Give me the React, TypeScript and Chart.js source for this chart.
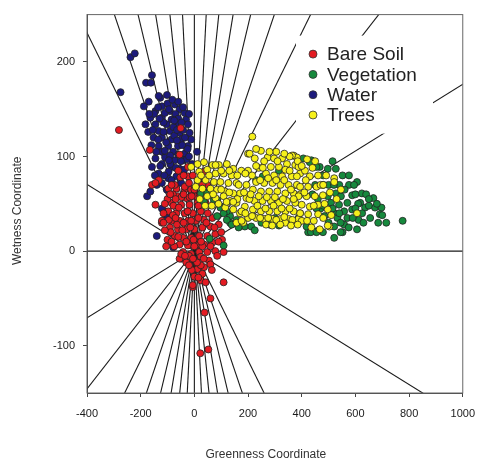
import React, { useEffect, useRef } from 'react';
import { Chart, registerables } from 'chart.js';

Chart.register(...registerables);

// ---- data ----
const seriesNames = ['Bare Soil', 'Vegetation', 'Water', 'Trees'];
const seriesColors = ['#e31b22', '#16893d', '#1c1a7c', '#f6f01a'];

const bareSoilPoints: [number, number][] = [
  [-281, 128], [-166, 107], [-51, 130], [-55, 102], [-24, 79], [-133, 75], [-158, 70], [-145, 72],
  [-145, 49], [-121, 30], [-48, -8], [109, -33], [60, -50], [38, -65], [22, -108], [52, -104], [-6, -38],
  [-67, 66], [-36, 65], [-6, 66], [-61, 58], [-30, 56], [6, 58], [-85, 51], [-49, 49], [-18, 49], [12, 51],
  [42, 51], [-97, 42], [-67, 40], [-36, 40], [-6, 40], [24, 42], [-121, 32], [-85, 32], [-55, 32], [-24, 32],
  [6, 32], [36, 33], [67, 35], [-91, 25], [-61, 23], [-30, 23], [0, 23], [30, 25], [60, 26], [91, 28],
  [-73, 16], [-42, 14], [-12, 14], [18, 16], [48, 16], [78, 18], [-55, 7], [-24, 6], [6, 6], [36, 7], [67, 9],
  [-42, -1], [-12, -3], [18, -1], [48, -1], [78, 0], [103, 12],
  [-97, 66], [-73, 70], [-36, 68], [-12, 65], [-52, 78], [-80, 60], [-20, 72],
  [-55, -8], [-49, -3], [24, -6], [54, -10], [85, -5], [109, -1], [12, -19], [36, -17], [24, -15], [0, -27],
  [24, -31], [42, -33], [-6, -36],
  [-24, 89], [-6, 80], [36, 84], [48, 70], [0, 65],
  [-115, 40], [-95, 33], [-88, 20], [-100, 12], [-75, 5], [-30, -12], [-20, -5], [10, -12], [30, -24],
  [60, -14], [-10, -20], [15, -28],
  [-78, 48], [-48, 57], [-18, 57], [-100, 55], [-110, 22], [-12, 32], [50, 40], [-45, 22], [-80, 38],
  [-58, 46], [-25, 42], [15, 48], [-3, 12], [-65, 28], [30, 5],
  [-110, 50], [-90, 60], [-70, 55], [-40, 60], [-10, 58], [20, 60], [-115, 30], [-70, 35], [-40, 30],
  [-15, 25], [15, 35], [45, 30], [75, 25], [100, 20], [-105, 5], [-85, 10], [-60, 15], [-30, 10], [0, 5],
  [25, 10], [60, 5], [90, 10], [-35, -5], [-5, -8], [35, -8], [65, -20], [-20, -15], [45, 60], [30, 70],
  [-60, 85], [-40, 80], [-85, 70],
];

const vegetationPoints: [number, number][] = [
  [406, 98], [436, 96], [467, 89], [497, 87], [527, 87], [552, 80], [576, 80], [606, 73], [576, 70], [624, 61],
  [527, 61], [497, 58], [546, 58], [588, 59], [509, 51], [539, 49], [570, 51], [618, 51], [667, 56], [521, 40],
  [558, 42], [588, 44], [636, 46], [673, 46], [697, 46], [485, 37], [533, 35], [570, 35], [612, 33], [655, 35],
  [691, 39], [685, 30], [521, 26], [558, 28], [606, 23], [479, 20], [521, 14], [552, 20], [388, 30], [424, 20],
  [455, 21], [776, 32], [715, 30],
  [133, 30], [188, 26], [212, 26], [133, 37], [109, 47], [85, 54], [60, 59], [36, 63], [121, 42], [157, 33],
  [315, 27], [351, 33], [388, 35], [418, 26], [434, 20], [455, 20], [545, 20], [430, 94], [455, 89], [230, 75],
  [255, 79], [315, 85],
  [57, 13], [109, 6], [85, 37], [109, 40], [121, 33], [139, 28], [97, 46], [73, 54], [24, 61], [48, 61], [36, 52],
  [250, 30], [280, 28], [300, 35], [460, 55], [470, 45], [450, 70], [480, 70], [500, 70], [540, 70], [600, 60],
  [640, 60], [610, 50], [650, 48], [500, 30], [540, 40], [590, 35], [630, 30],
  [440, 60], [455, 45], [480, 48], [515, 45], [545, 30], [575, 25], [600, 45], [625, 40], [650, 55], [680, 50],
  [700, 38], [595, 70], [560, 65], [520, 70], [515, 95], [480, 80], [165, 25], [225, 22],
];

const waterPoints: [number, number][] = [
  [-238, 205], [-222, 209], [-158, 186], [-180, 178], [-162, 178], [-275, 168],
  [-170, 158], [-127, 162], [-188, 153], [-121, 153], [-73, 155], [-55, 150], [-36, 146], [-91, 148], [-145, 148],
  [-164, 141], [-121, 141], [-85, 139], [-31, 139], [-182, 134], [-145, 134], [-103, 134], [-67, 134], [-24, 134],
  [-133, 127], [-91, 127], [-55, 125], [-18, 125], [-121, 120], [-85, 118], [-49, 118], [-12, 118], [-133, 111],
  [-97, 111], [-61, 111], [-24, 111], [-121, 105], [-79, 105], [-36, 103], [10, 105],
  [-176, 58], [-164, 63], [-133, 82], [-140, 70], [-121, 72], [-97, 77], [-67, 79], [-49, 72], [-109, 42],
  [-140, 16], [-79, 4], [-158, 89], [-121, 92], [-85, 89], [-55, 87], [-73, 96], [-42, 96], [-145, 98],
  [-109, 99], [-121, 45], [-105, 38],
  [-150, 145], [-110, 146], [-70, 145], [-135, 152], [-100, 156], [-60, 140], [-42, 128], [-115, 126],
  [-75, 122], [-35, 120], [-152, 120], [-105, 115], [-65, 117], [-142, 105], [-110, 106], [-90, 101],
  [-60, 102], [-28, 97], [-127, 90], [-96, 84], [-70, 88], [-38, 86], [-147, 80], [-112, 80], [-85, 75],
  [-103, 65], [-20, 100], [-8, 92], [-168, 145], [-172, 126], [-160, 112], [-82, 160], [-102, 165],
  [-133, 164], [-60, 158], [-45, 112], [-25, 108], [-50, 95], [-90, 92], [-115, 136], [-78, 131], [-48, 136],
  [-135, 118], [-95, 96],
  [-95, 150], [-75, 138], [-130, 140], [-42, 152], [-20, 145], [-155, 128], [-65, 128],
];

const treesPoints: [number, number][] = [
  [216, 121], [200, 103], [248, 106], [273, 99], [240, 88], [285, 89], [297, 98], [327, 98], [345, 92],
  [370, 101], [376, 91], [315, 89], [339, 86], [267, 82], [297, 80], [327, 79], [363, 79], [394, 82], [230, 73],
  [260, 72], [291, 72], [321, 70], [351, 70], [382, 70], [194, 70], [218, 65], [248, 63], [279, 63], [309, 63],
  [339, 61], [370, 61], [394, 60], [170, 61], [194, 56], [224, 53], [254, 53], [285, 53], [315, 51], [345, 53],
  [376, 51], [157, 51], [188, 47], [218, 44], [248, 42], [279, 42], [309, 42], [339, 42], [370, 42], [394, 40],
  [170, 40], [200, 35], [230, 35], [260, 34], [291, 34], [321, 34], [351, 34], [388, 34], [267, 28], [339, 30],
  [12, 92], [36, 94], [67, 91], [91, 91], [121, 92], [145, 87], [18, 84], [48, 86], [79, 82], [109, 82],
  [139, 80], [12, 75], [42, 75], [73, 73], [97, 73], [127, 72], [157, 72], [30, 66], [60, 66], [85, 65],
  [115, 63], [145, 61], [48, 58], [79, 56], [109, 58], [133, 53], [115, 46], [145, 44], [176, 42], [157, 30],
  [182, 30], [-12, 89],
  [382, 99], [388, 89], [412, 85], [382, 79], [430, 79], [461, 80], [491, 80], [521, 77], [394, 68], [424, 68],
  [455, 68], [388, 58], [418, 58], [449, 58], [479, 59], [400, 49], [430, 47], [461, 49], [497, 44], [394, 40],
  [424, 39], [461, 39], [400, 32], [436, 25], [467, 23], [503, 26], [546, 65], [606, 40],
  [364, 101], [206, 103], [521, 73], [497, 27], [176, 32],
  [355, 100], [305, 105], [260, 95], [175, 85], [200, 85], [230, 90], [79, 91],
  [225, 98], [255, 88], [310, 95], [335, 103], [355, 85], [385, 95], [400, 90], [415, 75], [440, 88], [470, 70],
  [485, 50], [445, 48], [410, 62], [370, 55], [355, 45], [325, 45], [295, 48], [265, 45], [235, 48], [205, 55],
  [185, 62], [165, 70], [190, 82], [215, 80], [245, 75], [275, 77], [305, 75], [335, 75], [360, 65], [330, 55],
  [300, 57], [270, 57], [240, 58], [210, 60], [160, 55], [130, 62], [100, 65], [70, 60], [25, 80], [55, 80],
  [100, 85], [130, 85], [160, 80], [5, 68], [20, 55], [40, 48], [65, 48], [90, 50], [120, 52], [145, 52],
  [190, 40], [215, 37], [245, 35], [275, 35], [305, 33], [335, 36], [365, 33], [420, 32], [445, 32], [480, 35],
  [510, 38], [530, 55], [505, 62], [480, 70], [450, 95], [420, 97], [280, 105], [230, 108], [320, 28], [290, 27],
  [360, 27], [385, 28],
];

const xTicks = [-400, -200, 0, 200, 400, 600, 800, 1000];
const yTicks = [-100, 0, 100, 200];
const rayAnglesDeg = [0, 10, 20, 30, 40, 50, 60, 70, 80, 90, 100, 110, 120, 130, 140, 150, 170];
const xTitle = 'Greenness Coordinate';
const yTitle = 'Wetness Coordinate';

const FONT = '"Liberation Sans", Arial, sans-serif';

const raysPlugin = {
  id: 'rays',
  beforeDatasetsDraw(chart: any) {
    const { ctx, chartArea: a, scales } = chart;
    const x = scales.x, y = scales.y;
    ctx.save();
    ctx.beginPath();
    ctx.rect(a.left, a.top, a.right - a.left, a.bottom - a.top);
    ctx.clip();
    ctx.strokeStyle = '#1a1a1a';
    ctx.lineWidth = 1.1;
    const R = 5000;
    rayAnglesDeg.forEach((deg) => {
      const t = (deg * Math.PI) / 180;
      const dx = Math.cos(t) * R;
      const dy = Math.sin(t) * R;
      ctx.beginPath();
      ctx.moveTo(x.getPixelForValue(-dx), y.getPixelForValue(-dy));
      ctx.lineTo(x.getPixelForValue(dx), y.getPixelForValue(dy));
      ctx.stroke();
    });
    ctx.restore();
  },
};

const framePlugin = {
  id: 'frameLegend',
  afterDatasetsDraw(chart: any) {
    const { ctx, chartArea: a } = chart;
    ctx.save();
    const bx = a.left + 209;
    const by = a.top + 21;
    ctx.fillStyle = '#ffffff';
    ctx.fillRect(bx, by, 137, 98);
    seriesNames.forEach((name, i) => {
      const cy = by + 18.5 + i * 20.3;
      ctx.beginPath();
      ctx.arc(bx + 17, cy, 4, 0, Math.PI * 2);
      ctx.fillStyle = seriesColors[i];
      ctx.fill();
      ctx.lineWidth = 0.8;
      ctx.strokeStyle = '#333';
      ctx.stroke();
      ctx.fillStyle = '#222';
      ctx.font = `19px ${FONT}`;
      ctx.textBaseline = 'middle';
      ctx.textAlign = 'left';
      ctx.fillText(name, bx + 31, cy + 1);
    });
    ctx.strokeStyle = '#666';
    ctx.lineWidth = 1;
    ctx.strokeRect(a.left, a.top, a.right - a.left, a.bottom - a.top);
    ctx.restore();
  },
  afterDraw(chart: any) {
    const { ctx, chartArea: a } = chart;
    ctx.save();
    ctx.fillStyle = '#333';
    ctx.font = `12px ${FONT}`;
    ctx.textAlign = 'center';
    ctx.textBaseline = 'middle';
    ctx.fillText(xTitle, (a.left + a.right) / 2 - 9, 455);
    ctx.translate(17.5, (a.top + a.bottom) / 2 + 7);
    ctx.rotate(-Math.PI / 2);
    ctx.fillText(yTitle, 0, 0);
    ctx.restore();
  },
};

function makeDataset(label: string, pts: [number, number][], color: string, order: number) {
  return {
    type: 'scatter' as const,
    label,
    data: pts.map(([x, y]) => ({ x, y })),
    backgroundColor: color,
    borderColor: '#222',
    pointRadius: 3.5,
    pointBorderWidth: 0.8,
    pointHoverRadius: 3.5,
    order,
  };
}

export default function App() {
  const ref = useRef<HTMLCanvasElement>(null);
  useEffect(() => {
    document.body.style.margin = '0';
    if (!ref.current) return;
    const chart = new Chart(ref.current, {
      type: 'scatter',
      data: {
        datasets: [
          makeDataset(seriesNames[0], bareSoilPoints, seriesColors[0], 2),
          makeDataset(seriesNames[1], vegetationPoints, seriesColors[1], 1),
          makeDataset(seriesNames[2], waterPoints, seriesColors[2], 3),
          makeDataset(seriesNames[3], treesPoints, seriesColors[3], 0),
        ],
      },
      options: {
        responsive: false,
        animation: false,
        layout: { padding: { top: 9, right: 13, left: 0, bottom: 0 } },
        plugins: { legend: { display: false }, tooltip: { enabled: false } },
        scales: {
          x: {
            type: 'linear',
            min: -400,
            max: 1000,
            afterBuildTicks: (s: any) => {
              s.ticks = xTicks.map((v) => ({ value: v }));
            },
            afterFit: (s: any) => {
              s.height = 70;
            },
            grid: { drawOnChartArea: false, tickLength: 4, color: '#444' },
            border: { color: '#444', width: 1 },
            ticks: {
              padding: 10,
              color: '#1a1a1a',
              font: { family: FONT, size: 11 },
              callback: (v: any) => String(v),
            },
          },
          y: {
            type: 'linear',
            min: -150,
            max: 250,
            afterBuildTicks: (s: any) => {
              s.ticks = yTicks.map((v) => ({ value: v }));
            },
            afterFit: (s: any) => {
              s.width = 87;
            },
            grid: { drawOnChartArea: false, tickLength: 4, color: '#444' },
            border: { color: '#444', width: 1 },
            ticks: {
              padding: 8,
              color: '#1a1a1a',
              font: { family: FONT, size: 11 },
              callback: (v: any) => String(v),
            },
          },
        },
      },
      plugins: [raysPlugin, framePlugin],
    });
    return () => chart.destroy();
  }, []);
  return (
    <div style={{ width: 485, height: 463 }}>
      <canvas ref={ref} width={485} height={463} />
    </div>
  );
}
